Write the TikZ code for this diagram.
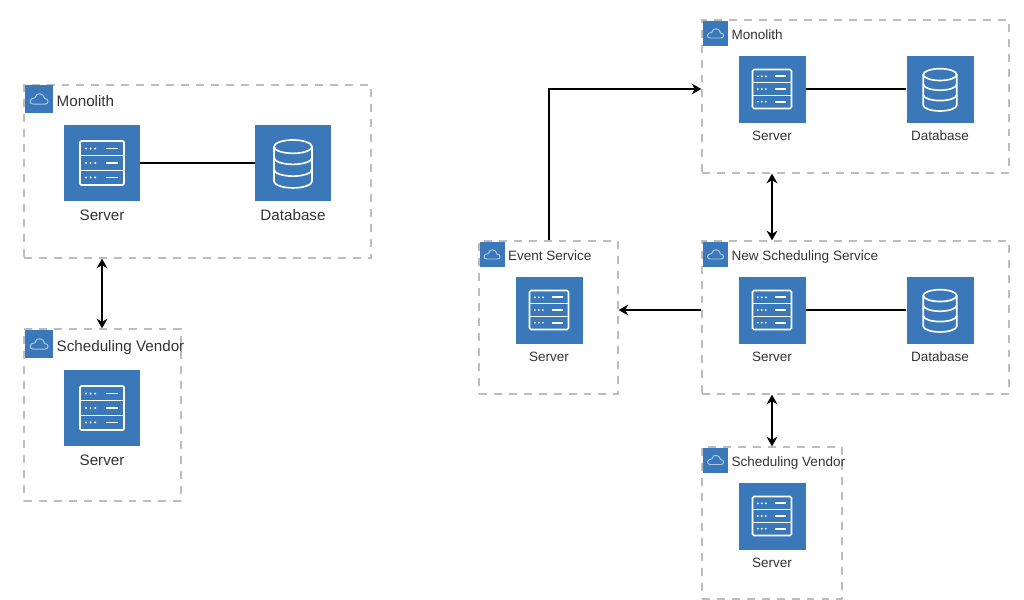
\documentclass[tikz,border=0pt]{standalone}
\usepackage{fontspec}
\setmainfont{Liberation Sans}
\usetikzlibrary{arrows.meta,positioning}
\definecolor{tileblue}{HTML}{3B78B9}
\definecolor{boxgray}{HTML}{BDBDBD}
\definecolor{labelgray}{HTML}{333333}
\definecolor{cloudblue}{HTML}{A9C9E8}
\tikzset{
	group box/.style={draw=boxgray,line width=0.75pt,dash pattern=on 4.5pt off 4pt,inner sep=0pt},
	big tile/.style={fill=tileblue,inner sep=0pt,minimum size=1.52cm},
	small tile/.style={fill=tileblue,inner sep=0pt,minimum size=1.34cm},
	big corner/.style={fill=tileblue,inner sep=0pt,minimum size=0.56cm},
	small corner/.style={fill=tileblue,inner sep=0pt,minimum size=0.5cm},
	big text/.style={font=\fontsize{8.65}{9}\selectfont,text=labelgray,inner sep=0pt,text height=6.2pt,text depth=0pt},
	small text/.style={font=\fontsize{7.7}{8}\selectfont,text=labelgray,inner sep=0pt,text height=5.5pt,text depth=0pt},
	big link/.style={line width=1.7pt,black},
	small link/.style={line width=1.4pt,black},
	server icon/.pic={
		\draw[white,line width=0.95pt,rounded corners=0.8pt] (-0.29,-0.29) rectangle (0.29,0.29);
		\draw[white,line width=0.95pt] (-0.29,-0.097) -- (0.29,-0.097) (-0.29,0.097) -- (0.29,0.097);
		\foreach \y in {-0.19,0,0.19} {
			\draw[white,line width=0.95pt] (0.05,\y) -- (0.21,\y);
			\foreach \x in {-0.21,-0.15,-0.09}
				\fill[white] (\x,\y) circle (0.015);
		}
	},
	database icon/.pic={
		\draw[white,line width=0.95pt] (0,0.215) ellipse (0.25 and 0.088);
		\draw[white,line width=0.95pt] (-0.25,0.215) -- (-0.25,-0.24) arc (180:360:0.25 and 0.088) -- (0.25,0.215);
		\draw[white,line width=0.95pt] (-0.25,0.07) arc (180:360:0.25 and 0.088);
		\draw[white,line width=0.95pt] (-0.25,-0.085) arc (180:360:0.25 and 0.088);
	},
	cloud icon/.pic={
		\draw[cloudblue,line width=0.55pt] (-0.22,-0.18) -- (0.22,-0.18)
			.. controls (0.36,-0.18) and (0.36,0.02) .. (0.2,0.02)
			.. controls (0.17,0.22) and (-0.1,0.26) .. (-0.15,0.04)
			.. controls (-0.36,0.04) and (-0.36,-0.18) .. (-0.22,-0.18);
	}
}
\begin{document}
\begin{tikzpicture}[>={Stealth[length=5.5pt,width=6.2pt]}]
	\useasboundingbox (0,0) rectangle (20.48,-12);
	% before
	\node[group box,minimum width=6.94cm,minimum height=3.46cm] (monoA) at (3.95,-3.43) {};
	\node[group box,minimum width=3.14cm,minimum height=3.44cm] (vendorA) at (2.05,-8.30) {};
	\node[big corner] (monoAc) at (0.78,-1.98) {};
	\node[big corner] (vendorAc) at (0.78,-6.88) {};
	\pic[scale=0.56] at (monoAc) {cloud icon};
	\pic[scale=0.56] at (vendorAc) {cloud icon};
	\node[big text,right=1.7pt of monoAc,yshift=-1pt] (monoAt) {Monolith};
	\node[big text,right=1.7pt of vendorAc,yshift=-1pt] (vendorAt) {Scheduling Vendor};
	\node[big tile] (srvA) at (2.04,-3.26) {};
	\node[big tile] (dbA) at (5.86,-3.26) {};
	\node[big tile] (srvB) at (2.04,-8.16) {};
	\pic[scale=1.52] at (srvA) {server icon};
	\pic[scale=1.52] at (dbA) {database icon};
	\pic[scale=1.52] at (srvB) {server icon};
	\node[big text,below=0.16cm of srvA] (srvAt) {Server};
	\node[big text,below=0.16cm of dbA] (dbAt) {Database};
	\node[big text,below=0.16cm of srvB] (srvBt) {Server};
	\draw[big link] (srvA) -- (dbA);
	\draw[big link,<->] (srvA |- monoA.south) -- (srvA |- vendorA.north);

	% after
	\node[group box,minimum width=6.14cm,minimum height=3.06cm] (monoC) at (17.11,-1.93) {};
	\node[group box,minimum width=6.14cm,minimum height=3.06cm] (schedC) at (17.11,-6.35) {};
	\node[group box,minimum width=2.78cm,minimum height=3.06cm] (eventC) at (10.97,-6.35) {};
	\node[group box,minimum width=2.80cm,minimum height=3.04cm] (vendorC) at (15.44,-10.46) {};
	\node[small corner] (monoCc) at (14.31,-0.67) {};
	\node[small corner] (schedCc) at (14.31,-5.09) {};
	\node[small corner] (eventCc) at (9.84,-5.09) {};
	\node[small corner] (vendorCc) at (14.31,-9.2) {};
	\pic[scale=0.5] at (monoCc) {cloud icon};
	\pic[scale=0.5] at (schedCc) {cloud icon};
	\pic[scale=0.5] at (eventCc) {cloud icon};
	\pic[scale=0.5] at (vendorCc) {cloud icon};
	\node[small text,right=1.6pt of monoCc,yshift=-0.8pt] (monoCt) {Monolith};
	\node[small text,right=1.6pt of schedCc,yshift=-0.8pt] (schedCt) {New Scheduling Service};
	\node[small text,right=1.6pt of eventCc,yshift=-0.8pt] (eventCt) {Event Service};
	\node[small text,right=1.6pt of vendorCc,yshift=-0.8pt] (vendorCt) {Scheduling Vendor};
	\node[small tile] (srvC) at (15.44,-1.78) {};
	\node[small tile] (dbC) at (18.80,-1.78) {};
	\node[small tile] (srvD) at (15.44,-6.20) {};
	\node[small tile] (dbD) at (18.80,-6.20) {};
	\node[small tile] (srvE) at (10.98,-6.20) {};
	\node[small tile] (srvF) at (15.44,-10.32) {};
	\pic[scale=1.34] at (srvC) {server icon};
	\pic[scale=1.34] at (dbC) {database icon};
	\pic[scale=1.34] at (srvD) {server icon};
	\pic[scale=1.34] at (dbD) {database icon};
	\pic[scale=1.34] at (srvE) {server icon};
	\pic[scale=1.34] at (srvF) {server icon};
	\node[small text,below=0.16cm of srvC] (srvCt) {Server};
	\node[small text,below=0.16cm of dbC] (dbCt) {Database};
	\node[small text,below=0.16cm of srvD] (srvDt) {Server};
	\node[small text,below=0.16cm of dbD] (dbDt) {Database};
	\node[small text,below=0.16cm of srvE] (srvEt) {Server};
	\node[small text,below=0.16cm of srvF] (srvFt) {Server};
	\draw[small link] (srvC) -- (dbC);
	\draw[small link] (srvD) -- (dbD);
	\draw[small link,<->] (srvC |- monoC.south) -- (srvC |- schedC.north);
	\draw[small link,<->] (srvD |- schedC.south) -- (srvD |- vendorC.north);
	\draw[small link,->] (schedC.west |- srvE) -- (eventC.east |- srvE);
	\draw[small link,->] (srvE |- eventC.north) |- (monoC.west |- srvC);
\end{tikzpicture}
\end{document}
